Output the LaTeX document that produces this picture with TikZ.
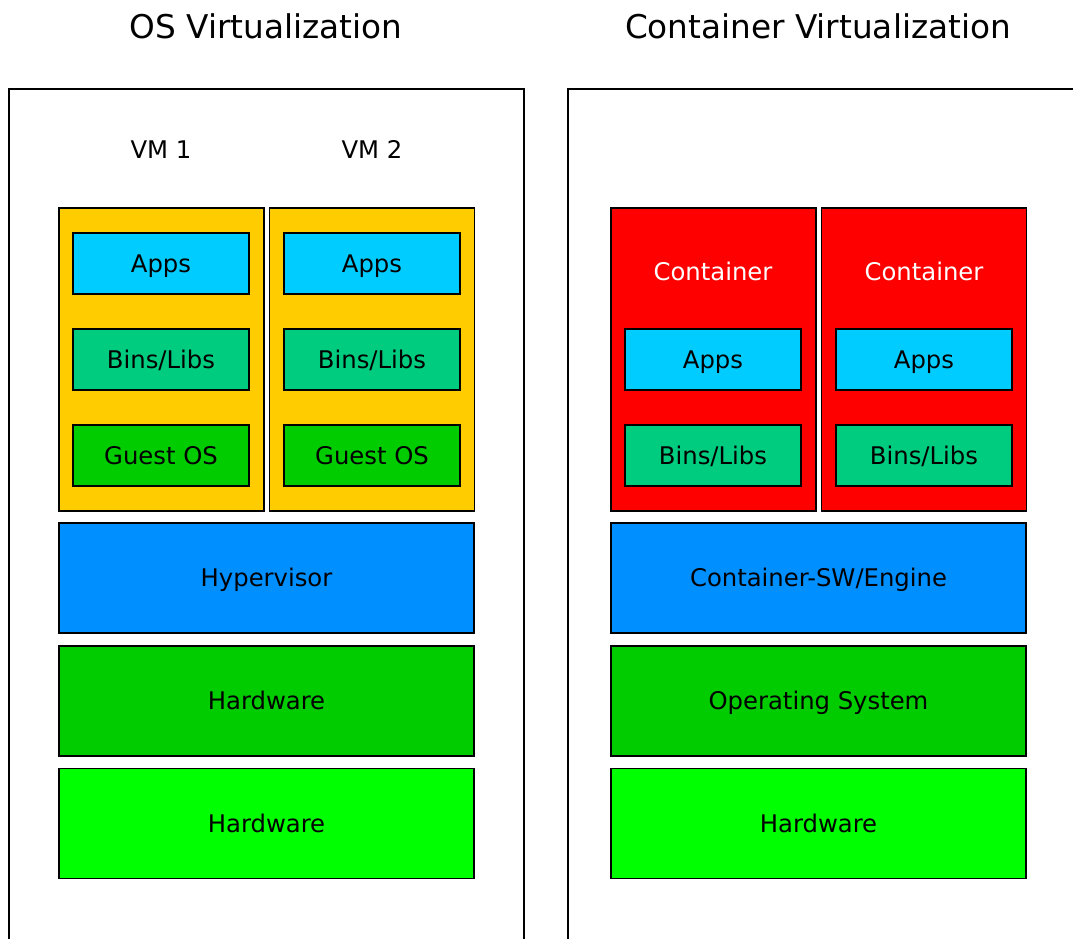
\documentclass[tikz,border=0pt]{standalone}
\usepackage{fontspec}
\setmainfont{DejaVu Sans}
\usepackage{tikz}
\usetikzlibrary{positioning}
\definecolor{vmyellow}{HTML}{FFCC00}
\definecolor{appcyan}{HTML}{00CCFF}
\definecolor{libgreen}{HTML}{00CC80}
\definecolor{osgreen}{HTML}{00CC00}
\definecolor{hwgreen}{HTML}{00FF00}
\definecolor{engblue}{HTML}{008FFF}
\definecolor{ctred}{HTML}{FF0000}

\begin{document}
\begin{tikzpicture}[
    x=1pt, y=-1pt,
    title/.style={font=\fontsize{32.7}{39}\selectfont, text height=23.9pt, text depth=0pt},
    label/.style={font=\fontsize{24.3}{29}\selectfont, text height=17.7pt, text depth=0pt},
    frame/.style={draw, line width=2pt},
    box/.style={draw, line width=1.5pt, inner sep=0pt, text height=17.7pt, text depth=0pt,
                font=\fontsize{24.3}{29}\selectfont},
    inner/.style={box, minimum width=176pt, minimum height=61pt},
    column/.style={box, minimum width=205pt, minimum height=303pt},
    layer/.style={box, minimum width=415pt, minimum height=110pt}
]
    \useasboundingbox (0,0) rectangle (1073,938);
    \clip (0,0) rectangle (1073,938);

    % Titles
    \node[title] (ostitle) at (266,27) {OS Virtualization};
    \node[title] (cttitle) at (818,27) {Container Virtualization};

    % Frames
    \draw[frame] (9,960) -- (9,89) -- (524,89) -- (524,960);
    \draw[frame] (568,960) -- (568,89) -- (1100,89);

    % VM columns
    \node[label] (vm1) at (161,150) {VM 1};
    \node[label] (vm2) at (372,150) {VM 2};
    \node[column, fill=vmyellow] (vmcol1) at (161.5,359.5) {};
    \node[column, fill=vmyellow] (vmcol2) at (372,359.5) {};
    \node[inner, fill=appcyan] (apps1) at (161,263.5) {Apps};
    \node[inner, fill=libgreen] (libs1) at (161,359.5) {Bins/Libs};
    \node[inner, fill=osgreen] (guest1) at (161,455.5) {Guest OS};
    \node[inner, fill=appcyan] (apps2) at (372,263.5) {Apps};
    \node[inner, fill=libgreen] (libs2) at (372,359.5) {Bins/Libs};
    \node[inner, fill=osgreen] (guest2) at (372,455.5) {Guest OS};

    % VM stack
    \node[layer, fill=engblue] (hyper) at (266.5,578) {Hypervisor};
    \node[layer, fill=osgreen] (hw1) at (266.5,701) {Hardware};
    \node[layer, fill=hwgreen] (hw2) at (266.5,823.5) {Hardware};

    % Container columns
    \node[column, fill=ctred] (ctcol1) at (713.5,359.5) {};
    \node[column, fill=ctred] (ctcol2) at (924,359.5) {};
    \node[label, text=white] (ct1) at (713,272) {Container};
    \node[label, text=white] (ct2) at (924,272) {Container};
    \node[inner, fill=appcyan] (capps1) at (713,359.5) {Apps};
    \node[inner, fill=libgreen] (clibs1) at (713,455.5) {Bins/Libs};
    \node[inner, fill=appcyan] (capps2) at (924,359.5) {Apps};
    \node[inner, fill=libgreen] (clibs2) at (924,455.5) {Bins/Libs};

    % Container stack
    \node[layer, fill=engblue] (engine) at (818.5,578) {Container-SW/Engine};
    \node[layer, fill=osgreen] (hostos) at (818.5,701) {Operating System};
    \node[layer, fill=hwgreen] (hw3) at (818.5,823.5) {Hardware};
\end{tikzpicture}
\end{document}
